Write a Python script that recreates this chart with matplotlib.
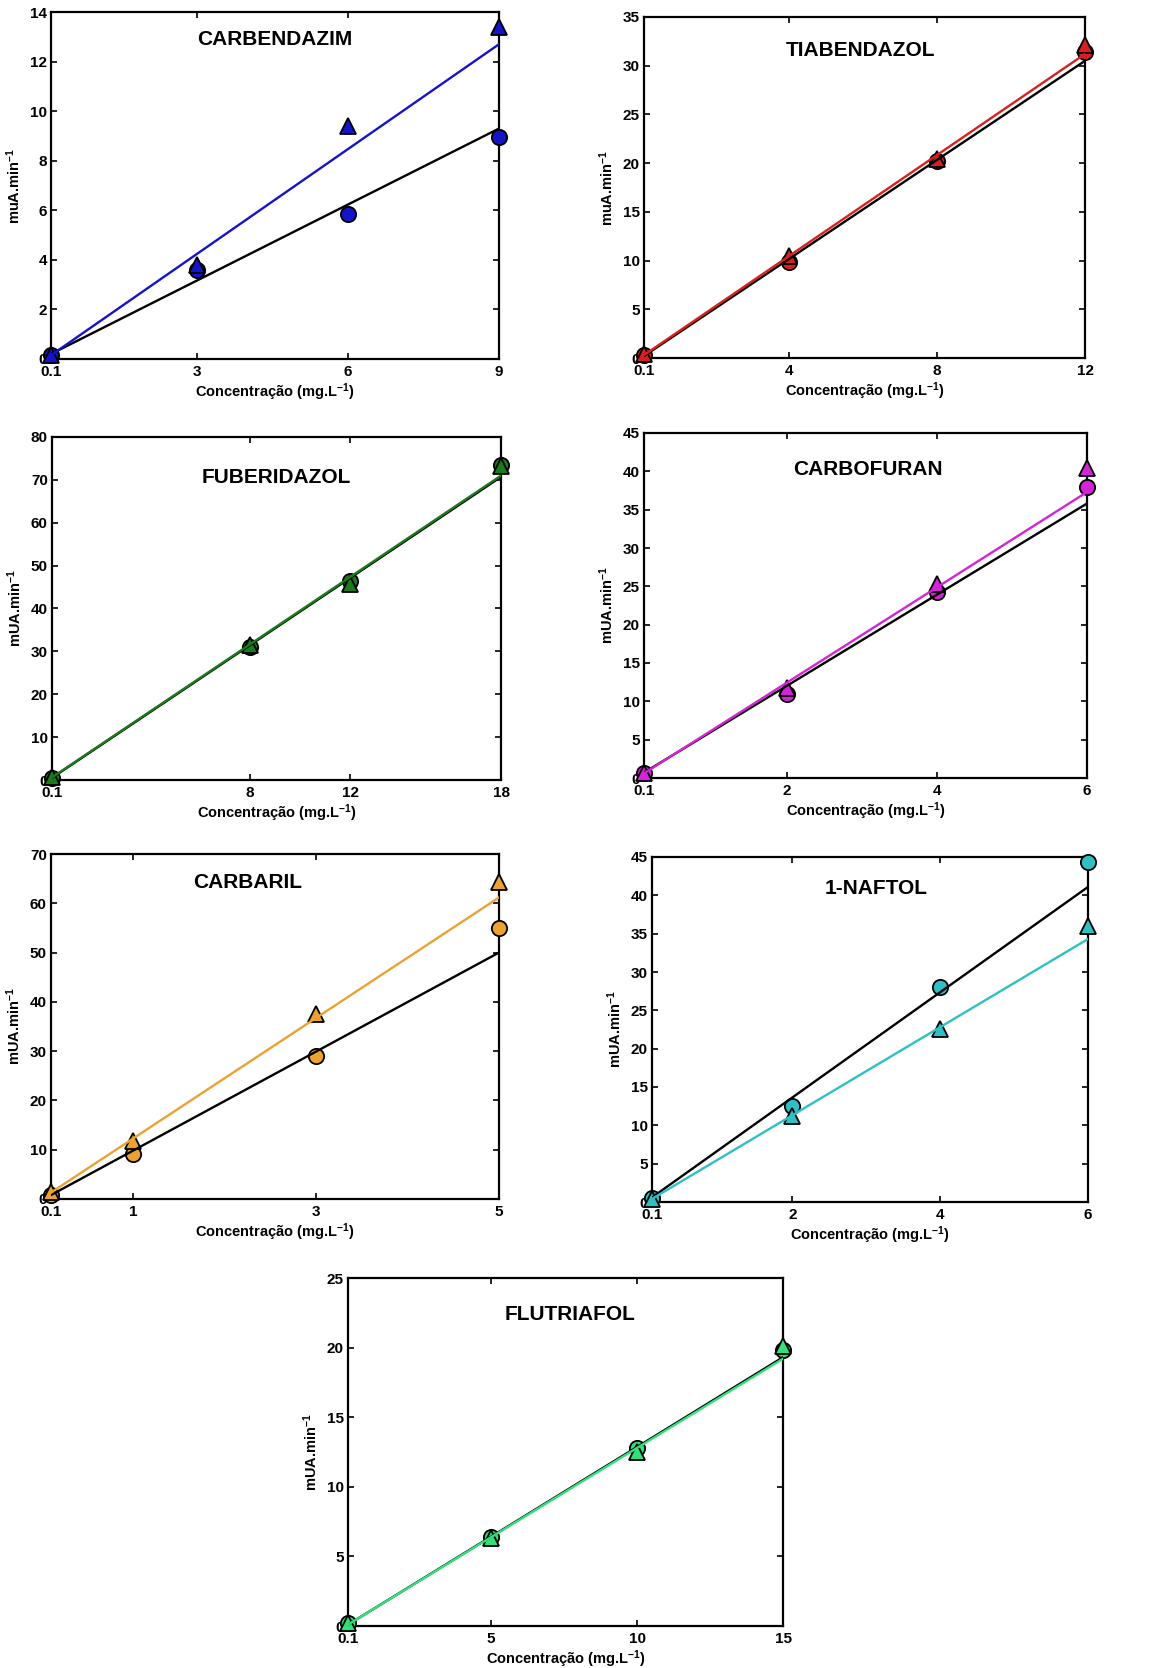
import matplotlib
matplotlib.use("Agg")
import matplotlib.pyplot as plt
import numpy as np

plt.rcParams['font.family'] = ['Liberation Sans', 'DejaVu Sans']
plt.rcParams['font.weight'] = 'bold'
plt.rcParams['mathtext.fontset'] = 'custom'
plt.rcParams['mathtext.rm'] = 'Liberation Sans:bold'
plt.rcParams['mathtext.bf'] = 'Liberation Sans:bold'
plt.rcParams['mathtext.default'] = 'bf'

W, H = 1152, 1668

# compound names and colours
names = ["CARBENDAZIM", "TIABENDAZOL", "FUBERIDAZOL", "CARBOFURAN",
         "CARBARIL", "1-NAFTOL", "FLUTRIAFOL"]
colors = ["#1414c8", "#d82020", "#1c7a1c", "#d424d8",
          "#eca232", "#30c0c4", "#34e07c"]

# concentrations (mg/L)
conc = [
    [0.1, 3, 6, 9],
    [0.1, 4, 8, 12],
    [0.1, 8, 12, 18],
    [0.1, 2, 4, 6],
    [0.1, 1, 3, 5],
    [0.1, 2, 4, 6],
    [0.1, 5, 10, 15],
]

# circle series (black fit line)
circ = [
    [0.15, 3.6, 5.85, 8.95],
    [0.3, 9.9, 20.2, 31.4],
    [0.5, 31.0, 46.3, 73.5],
    [0.6, 11.0, 24.2, 38.0],
    [0.8, 9.1, 29.1, 55.0],
    [0.5, 12.5, 28.1, 44.3],
    [0.2, 6.4, 12.8, 19.8],
]

# triangle series (coloured fit line)
tri = [
    [0.15, 3.8, 9.4, 13.4],
    [0.4, 10.5, 20.4, 32.1],
    [0.8, 31.5, 45.7, 73.2],
    [0.7, 11.7, 25.3, 40.5],
    [1.4, 11.7, 37.5, 64.3],
    [0.4, 11.2, 22.6, 36.0],
    [0.2, 6.3, 12.5, 20.1],
]

# fitted lines: slope, intercept
fit_black = [(1.022, 0.10), (2.546, -0.05), (3.922, 0.11), (5.949, 0.11),
             (10.04, -0.20), (6.864, -0.09), (1.289, -0.03)]
fit_color = [(1.410, 0.01), (2.597, 0.04), (3.932, 0.21), (6.220, -0.02),
             (12.22, 0.08), (5.746, -0.17), (1.282, -0.03)]

ylims = [14, 35, 80, 45, 70, 45, 25]
ysteps = [2, 5, 10, 5, 10, 5, 5]
ylabels = ["muA.min$^{-1}$", "muA.min$^{-1}$"] + ["mUA.min$^{-1}$"] * 5

# axes boxes in pixels: left, top, right, bottom
boxes = [
    (51, 12, 499, 359),
    (644, 17, 1085, 358),
    (52, 437, 501, 780),
    (644, 433, 1087, 778),
    (51, 854, 499, 1199),
    (652, 857, 1088, 1202),
    (348, 1278, 783, 1626),
]
title_pos = [(0.50, 0.92), (0.49, 0.903), (0.50, 0.883), (0.505, 0.893),
             (0.44, 0.916), (0.514, 0.91), (0.51, 0.894)]

fig = plt.figure(figsize=(W / 100, H / 100), dpi=100)

for i in range(7):
    l, t, r, b = boxes[i]
    ax = fig.add_axes([l / W, 1 - b / H, (r - l) / W, (b - t) / H])
    x = np.array(conc[i])
    c = colors[i]

    ax.plot(x, circ[i], 'o', ms=11, mfc=c, mec='black', mew=1.3,
            clip_on=False, zorder=3)
    ax.plot(x, tri[i], '^', ms=11.5, mfc=c, mec='black', mew=1.3,
            clip_on=False, zorder=4)

    xx = np.array([x[0], x[-1]])
    m, q = fit_black[i]
    ax.plot(xx, m * xx + q, '-', color='black', lw=1.7, zorder=5)
    m, q = fit_color[i]
    ax.plot(xx, m * xx + q, '-', color=c, lw=1.7, zorder=6)

    ax.set_xlim(x[0], x[-1])
    ax.set_ylim(0, ylims[i])
    ax.set_xticks(x)
    ax.set_xticklabels([f"{v:g}" for v in x])
    ax.set_yticks(np.arange(0, ylims[i] + 0.01, ysteps[i]))
    ax.tick_params(direction='in', top=True, right=True, length=4,
                   width=1.2, labelsize=11)
    ax.tick_params(axis='x', pad=4)
    ax.tick_params(axis='y', pad=3)
    for lab in ax.get_xticklabels() + ax.get_yticklabels():
        lab.set_fontweight('bold')
    for s in ax.spines.values():
        s.set_linewidth(1.6)

    ax.set_xlabel("Concentração (mg.L$^{-1}$)", fontsize=10.5,
                  fontweight='bold', labelpad=2)
    ax.set_ylabel(ylabels[i], fontsize=10.5, fontweight='bold', labelpad=5)
    tx, ty = title_pos[i]
    ax.text(tx, ty, names[i], transform=ax.transAxes, ha='center',
            va='center', fontsize=15, fontweight='bold')

fig.savefig("out.png", dpi=100)
